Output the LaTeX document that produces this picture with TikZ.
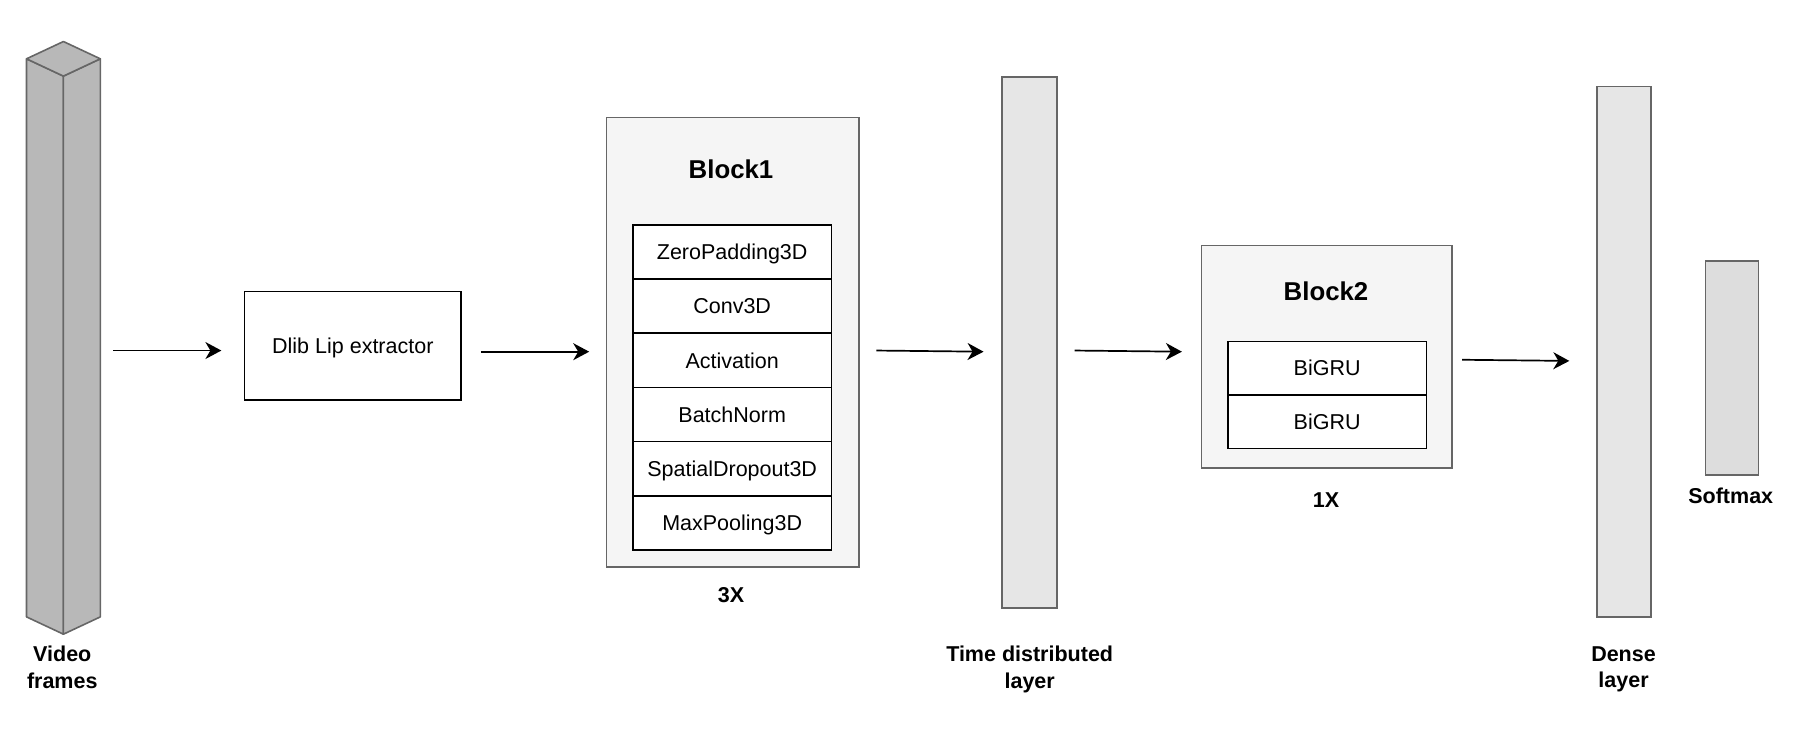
\documentclass[tikz,border=0pt]{standalone}
\usepackage{fontspec}
\setmainfont{Liberation Sans}
\usepackage{xcolor}
\usetikzlibrary{arrows.meta}
\definecolor{edgegray}{HTML}{666666}
\definecolor{cubefill}{HTML}{B8B8B8}
\definecolor{groupfill}{HTML}{F5F5F5}
\definecolor{barfill}{HTML}{E6E6E6}
\definecolor{softfill}{HTML}{DDDDDD}

\begin{document}
\begin{tikzpicture}[x=0.5765pt,y=-0.5765pt,
  every node/.style={font=\fontsize{10.75}{13.3}\selectfont,inner sep=0pt},
  box/.style={draw,line width=0.75pt,fill=white,text height=9pt,text depth=1.3pt},
  group/.style={draw=edgegray,fill=groupfill,line width=0.8pt},
  bar/.style={draw=edgegray,line width=0.9pt},
  title/.style={font=\fontsize{12.9}{15}\selectfont\bfseries},
  lbl/.style={font=\fontsize{10.75}{13.3}\selectfont\bfseries,align=center},
  face/.style={draw=edgegray,fill=cubefill,line width=0.8pt,line join=round},
  flow/.style={->,line width=0.85pt},
]
\tikzset{>={Stealth[length=8pt,width=8.5pt,inset=2.5pt]}}
\useasboundingbox (0,0) rectangle (1568,647);
% input cuboid
\filldraw[face] (23,51) -- (55,66) -- (55,550) -- (23,535) -- cycle;
\filldraw[face] (55,66) -- (87,51) -- (87,535) -- (55,550) -- cycle;
\filldraw[face] (23,51) -- (55,36) -- (87,51) -- (55,66) -- cycle;
\node[lbl](vidlbl) at(54,578.5){Video\\frames};
% lip extractor
\node[box,minimum width=108.4pt,minimum height=54.2pt](dlib) at(306,300){Dlib Lip extractor};
% block 1
\node[group,minimum width=126.3pt,minimum height=224.8pt](blk1) at(635.5,297){};
\node[title](blk1t) at(634,147){Block1};
\node[box,minimum width=99.2pt,minimum height=27.1pt](zp) at(635,218.5){ZeroPadding3D};
\node[box,minimum width=99.2pt,minimum height=27.1pt](cv) at(635,265.5){Conv3D};
\node[box,minimum width=99.2pt,minimum height=27.1pt](act) at(635,312.5){Activation};
\node[box,minimum width=99.2pt,minimum height=27.1pt](bn) at(635,359.5){BatchNorm};
\node[box,minimum width=99.2pt,minimum height=27.1pt](sd) at(635,406.5){SpatialDropout3D};
\node[box,minimum width=99.2pt,minimum height=27.1pt](mp) at(635,453.5){MaxPooling3D};
\node[lbl](rep1) at(634,516){3X};
% time distributed
\node[bar,fill=barfill,minimum width=27.7pt,minimum height=265.2pt](tdl) at(893,297){};
\node[lbl](tdllbl) at(893,580.5){Time distributed\\layer};
% block 2
\node[group,minimum width=125.1pt,minimum height=111.3pt](blk2) at(1150.5,309.5){};
\node[title](blk2t) at(1150,253){Block2};
\node[box,minimum width=99.2pt,minimum height=26.8pt](gru1) at(1151,319.25){BiGRU};
\node[box,minimum width=99.2pt,minimum height=26.8pt](gru2) at(1151,365.75){BiGRU};
\node[lbl](rep2) at(1150,434){1X};
% dense and softmax
\node[bar,fill=barfill,minimum width=27.1pt,minimum height=265.2pt](dns) at(1408.5,305){};
\node[lbl](dnslbl) at(1408,580.5){Dense\\layer};
\node[bar,fill=softfill,minimum width=26.5pt,minimum height=107.2pt](smx) at(1502,319){};
\node[lbl](smxlbl) at(1501,430){Softmax};
% arrow ends
\coordinate(a1) at(98,304);   \coordinate(b1) at(192,304);
\coordinate(a2) at(417,305);  \coordinate(b2) at(511,305);
\coordinate(a3) at(760,304);  \coordinate(b3) at(853,305);
\coordinate(a4) at(932,304);  \coordinate(b4) at(1025,305);
\coordinate(a5) at(1268,312); \coordinate(b5) at(1361,313);
\draw[flow](a1)--(b1); \draw[flow](a2)--(b2); \draw[flow](a3)--(b3);
\draw[flow](a4)--(b4); \draw[flow](a5)--(b5);
\end{tikzpicture}
\end{document}
